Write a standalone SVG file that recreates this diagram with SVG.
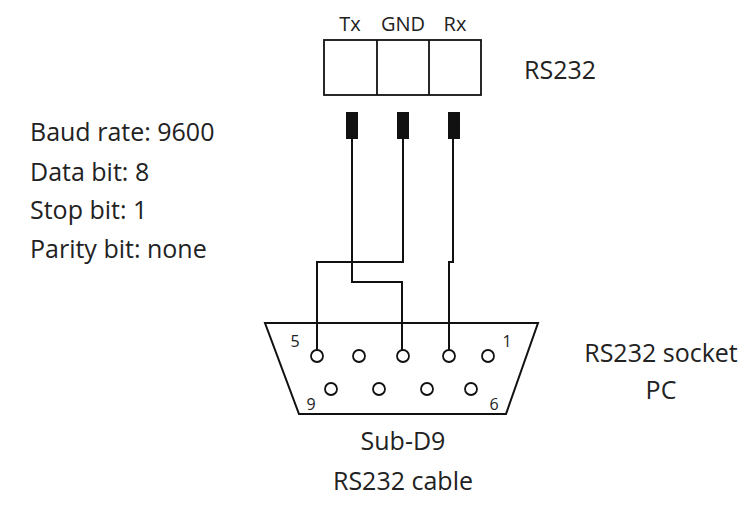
<svg xmlns="http://www.w3.org/2000/svg" width="753" height="509" viewBox="0 0 753 509">
<style>
text{font-family:"Open Sans","Liberation Sans",sans-serif;fill:#222}
.l{font-size:25px}.s{font-size:20px}.n{font-size:16px}
.w{fill:none;stroke:#111;stroke-width:2}
.pin{fill:#fff;stroke:#111;stroke-width:1.8}
</style>
<rect width="753" height="509" fill="#fff"/>
<g id="terminal">
<rect x="324" y="40" width="157" height="55" fill="#fff" stroke="#111" stroke-width="1.8"/>
<line x1="377" y1="40" x2="377" y2="95" stroke="#111" stroke-width="1.8"/>
<line x1="429" y1="40" x2="429" y2="95" stroke="#111" stroke-width="1.8"/>
<text class="s" x="350" y="31" text-anchor="middle">Tx</text>
<text class="s" x="403" y="31" text-anchor="middle">GND</text>
<text class="s" x="455" y="31" text-anchor="middle">Rx</text>
<text class="l" x="524" y="79">RS232</text>
</g>
<g id="plugs" fill="#111">
<rect x="346" y="112" width="12" height="27"/>
<rect x="397" y="112" width="12" height="27"/>
<rect x="448" y="112" width="12" height="27"/>
</g>
<g id="settings">
<text class="l" x="30" y="141">Baud rate: 9600</text>
<text class="l" x="30" y="181">Data bit: 8</text>
<text class="l" x="30" y="219">Stop bit: 1</text>
<text class="l" x="30" y="258">Parity bit: none</text>
</g>
<g id="connectors">
<polyline class="w" points="352,139 352,282 402,282 402,350"/>
<polyline class="w" points="403,139 403,262 317,262 317,350"/>
<polyline class="w" points="453,139 453,262 449,262 449,350"/>
</g>
<g id="subd9">
<polygon points="265,323 538,323 506,414 299,414" fill="none" stroke="#111" stroke-width="2"/>
<circle class="pin" cx="317" cy="356" r="6"/>
<circle class="pin" cx="359" cy="356" r="6"/>
<circle class="pin" cx="403" cy="356" r="6"/>
<circle class="pin" cx="449" cy="356" r="6"/>
<circle class="pin" cx="488" cy="356" r="6"/>
<circle class="pin" cx="331" cy="389" r="6"/>
<circle class="pin" cx="379" cy="389" r="6"/>
<circle class="pin" cx="427" cy="389" r="6"/>
<circle class="pin" cx="471" cy="389" r="6"/>
<text class="n" x="295" y="347" text-anchor="middle">5</text>
<text class="n" x="507" y="347" text-anchor="middle">1</text>
<text class="n" x="311" y="410" text-anchor="middle">9</text>
<text class="n" x="494" y="410" text-anchor="middle">6</text>
<text class="l" x="403" y="450" text-anchor="middle">Sub-D9</text>
<text class="l" x="403" y="490" text-anchor="middle">RS232 cable</text>
</g>
<g id="pc">
<text class="l" x="661" y="362" text-anchor="middle">RS232 socket</text>
<text class="l" x="661" y="399" text-anchor="middle">PC</text>
</g>
</svg>
